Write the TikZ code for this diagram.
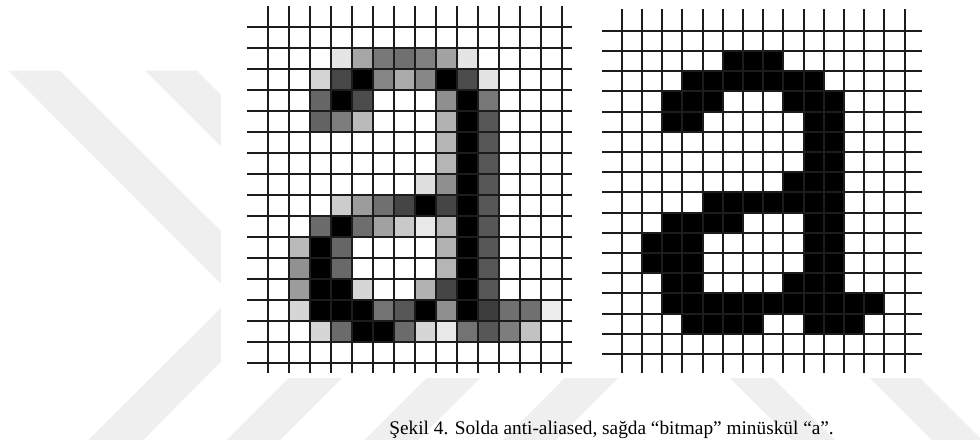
\documentclass[tikz,border=0pt]{standalone}
\usepackage{fontspec}
\setmainfont{Liberation Serif}
\definecolor{ink}{HTML}{1C1C1C}
\definecolor{wmark}{HTML}{EFEFEF}
\tikzset{
  gridline/.style={line width=1pt,color=ink},
  wmarkband/.style={fill=wmark},
  captiontext/.style={font=\fontsize{9.65}{11}\selectfont,text=black,
    inner sep=0pt,anchor=base west},
}

\begin{document}
\begin{tikzpicture}[x=0.5pt,y=-0.5pt]
  \useasboundingbox (0,0) rectangle (980,446);
  \clip (0,0) rectangle (980,446);

  % watermark
  \foreach \dx in {0,138,276}{
    \fill[wmarkband,xshift=\dx*0.5pt]
      (145,70.7) -- (196.7,70.7) -- (424,296) -- (280,440) -- (226.7,440) -- (370.5,296) -- cycle;
  }
  \fill[wmarkband] (8.3,70.7) -- (60,70.7) -- (286,296) -- (143.3,440) -- (88.3,440) -- (233,296) -- cycle;
  \fill[wmarkband] (730,378) -- (773,378) -- (835,440) -- (792,440) -- cycle;
  \fill[wmarkband] (870,378) -- (920,378) -- (982,440) -- (932,440) -- cycle;

  % the two bitmaps sit on white
  \fill[white] (220.7,0) rectangle (925,378);

  % anti-aliased a
  \begin{scope}[xshift=134.15pt,yshift=-13.35pt,x=10.48pt,y=-10.5pt]
    \foreach \r/\c/\k in {1/3/10, 1/4/35, 1/5/53, 1/6/56, 1/7/50, 1/8/36, 1/9/10,
        2/2/17, 2/3/72, 2/4/100, 2/5/48, 2/6/33, 2/7/47, 2/8/100, 2/9/70, 2/10/11,
        3/2/60, 3/3/100, 3/4/70, 3/8/44, 3/9/100, 3/10/53,
        4/2/61, 4/3/51, 4/4/27, 4/8/30, 4/9/100, 4/10/66,
        5/8/29, 5/9/100, 5/10/66,
        6/8/29, 6/9/100, 6/10/66,
        7/7/13, 7/8/44, 7/9/100, 7/10/66,
        8/3/20, 8/4/39, 8/5/56, 8/6/73, 8/7/100, 8/8/73, 8/9/100, 8/10/66,
        9/2/58, 9/3/100, 9/4/57, 9/5/37, 9/6/21, 9/7/9, 9/8/29, 9/9/100, 9/10/66,
        10/1/27, 10/2/100, 10/3/60, 10/8/30, 10/9/100, 10/10/66,
        11/1/43, 11/2/100, 11/3/59, 11/8/29, 11/9/100, 11/10/66,
        12/1/39, 12/2/100, 12/3/100, 12/4/16, 12/7/30, 12/8/73, 12/9/100, 12/10/66,
        13/1/16, 13/2/100, 13/3/100, 13/4/100, 13/5/55, 13/6/66, 13/7/100, 13/8/44,
        13/9/100, 13/10/76, 13/11/56, 13/12/56, 13/13/7,
        14/2/16, 14/3/58, 14/4/100, 14/5/100, 14/6/58, 14/7/16, 14/8/9, 14/9/55,
        14/10/66, 14/11/51, 14/12/24}
      \fill[black!\k] (\c,\r) rectangle ++(1,1);
    \foreach \i in {0,...,16}
      \draw[gridline] (-1,\i) -- (14.48,\i);
    \foreach \j in {0,...,14}
      \draw[gridline] (\j,-0.99) -- (\j,16.5);
  \end{scope}

  % bitmap a
  \begin{scope}[xshift=310.85pt,yshift=-15.35pt,x=10.105pt,y=-10.105pt]
    \foreach \r/\a/\b in {1/5/7, 2/3/9, 3/2/4, 3/8/10, 4/2/3, 4/9/10, 5/9/10, 6/9/10,
        7/8/10, 8/4/10, 9/2/5, 9/9/10, 10/1/3, 10/9/10, 11/1/3, 11/9/10,
        12/2/3, 12/8/10, 13/2/12, 14/3/6, 14/9/11}
      \fill[black] (\a,\r) rectangle ({\b+1},{\r+1});
    \foreach \i in {0,...,16}
      \draw[gridline] (-0.99,\i) -- (14.84,\i);
    \foreach \j in {0,...,14}
      \draw[gridline] (\j,-1.06) -- (\j,16.95);
  \end{scope}

  \node[captiontext] (caption) at (389,434)
    {Şekil 4. Solda anti-aliased, sağda “bitmap” minüskül “a”.};
\end{tikzpicture}
\end{document}
